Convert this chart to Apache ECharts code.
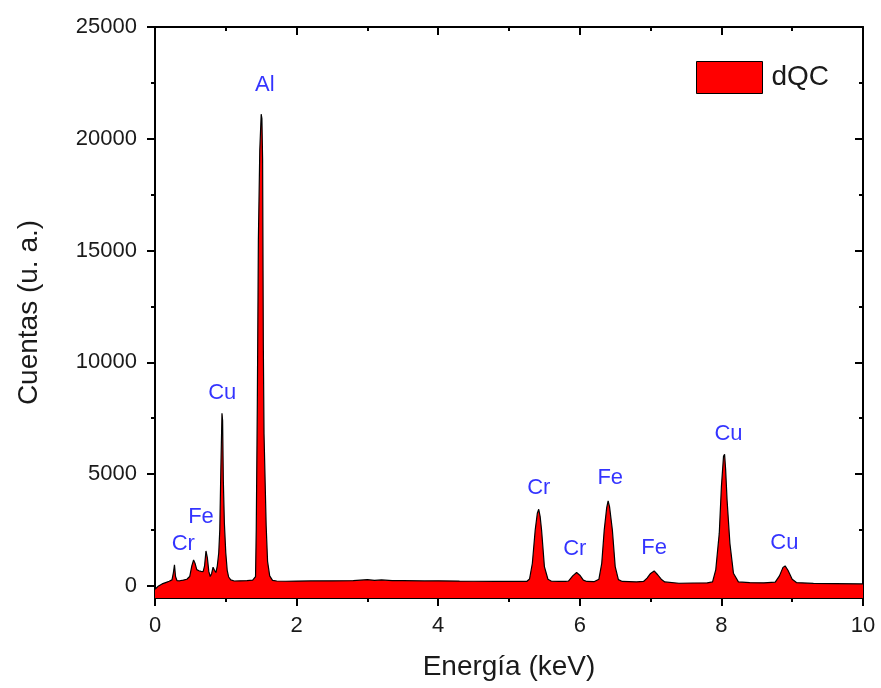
<!DOCTYPE html>
<html>
<head>
<meta charset="utf-8">
<script src="https://cdn.jsdelivr.net/npm/echarts@6/dist/echarts.min.js"></script>
<style>
html,body{margin:0;padding:0;background:#fff;}
#chart{width:881px;height:688px;}
</style>
</head>
<body>
<div id="chart"></div>
<script>
// Energy (keV) and counts of the EDS spectrum
const energy = [
  0.00,0.05,0.10,0.15,0.20,0.24,0.26,0.275,0.29,0.31,0.35,0.40,0.45,0.49,0.52,0.545,0.565,0.59,0.62,0.65,
  0.68,0.70,0.72,0.74,0.76,0.78,0.80,0.82,0.84,0.86,0.88,0.90,0.915,0.93,0.946,0.955,0.965,0.98,1.00,1.02,
  1.04,1.07,1.12,1.20,1.30,1.38,1.42,1.43,1.445,1.46,1.48,1.50,1.51,1.52,1.53,1.54,1.555,1.57,1.59,1.62,
  1.66,1.72,1.85,2.00,2.20,2.50,2.80,3.00,3.10,3.20,3.35,3.50,3.80,4.00,4.30,4.50,4.80,5.00,5.20,5.25,
  5.29,5.33,5.37,5.40,5.42,5.44,5.46,5.50,5.55,5.60,5.70,5.80,5.84,5.90,5.955,6.00,6.05,6.10,6.20,6.27,
  6.31,6.345,6.38,6.40,6.42,6.46,6.50,6.545,6.60,6.70,6.80,6.90,6.95,7.00,7.05,7.10,7.15,7.20,7.40,7.60,
  7.80,7.875,7.92,7.97,8.00,8.03,8.045,8.06,8.08,8.12,8.17,8.24,8.40,8.60,8.76,8.82,8.87,8.90,8.94,9.00,
  9.06,9.30,9.60,10.00
];
const counts = [
  -150,0,90,150,210,270,600,940,420,240,230,260,300,420,900,1160,1020,730,680,650,
  640,900,1565,1250,650,420,560,835,700,600,900,1475,2500,5200,7720,7400,4740,2800,1475,700,
  400,270,220,230,240,260,420,2500,8020,15470,19500,21100,20900,19050,10780,6800,4740,2700,1100,450,
  250,220,210,215,225,230,240,280,250,270,240,235,225,230,215,210,205,200,200,200,
  310,1015,2500,3250,3430,3100,2500,865,300,210,200,200,220,450,600,480,260,200,190,300,
  1015,2500,3500,3800,3550,2500,865,280,200,190,180,200,350,560,670,500,300,180,120,130,
  140,180,715,2360,4440,5800,5890,5200,3850,1910,570,180,150,140,170,450,830,895,700,300,
  150,110,100,90
];
// Peak annotations: element, energy position, height position
const peakNames = ['Cr','Fe','Cu','Al','Cr','Cr','Fe','Fe','Cu','Cu'];
const peakX     = [0.40,0.65,0.95,1.55,5.42,5.93,6.43,7.05,8.10,8.89];
const peakY     = [1880,3090,8630,22400,4380,1650,4830,1700,6800,1920];

const yTicksMajor = [0,5000,10000,15000,20000,25000];
const yTicksMinor = [2500,7500,12500,17500,22500];
const yMin = -540, yMax = 25000;

const spectrum = energy.map((e,i)=>[e,counts[i]]);
const peaks = peakNames.map((n,i)=>[peakX[i],peakY[i],n]);

const chart = echarts.init(document.getElementById('chart'));
const font = 'Liberation Sans, Arial, sans-serif';
const lineBlack = {color:'#000',width:2};
const xBase = {type:'value',min:0,max:10,interval:2,splitLine:{show:false},minorSplitLine:{show:false}};
const yBase = {type:'value',min:yMin,max:yMax,splitLine:{show:false}};

chart.setOption({
  animation:false,
  backgroundColor:'#fff',
  grid:{left:155,right:18,top:27,bottom:90,containLabel:false},
  legend:{
    data:[{name:'dQC',icon:'rect'}],
    left:696,top:61,itemWidth:66,itemHeight:32,padding:0,
    itemStyle:{color:'#ff0000',borderColor:'#000',borderWidth:1},
    textStyle:{fontSize:28,color:'#1a1a1a',fontFamily:font,padding:[0,0,0,4]}
  },
  xAxis:[
    Object.assign({},xBase,{
      position:'bottom',
      name:'Energía (keV)',nameLocation:'middle',nameGap:55,
      nameTextStyle:{fontSize:28,color:'#1a1a1a',fontFamily:font},
      axisLine:{onZero:false,lineStyle:lineBlack},
      axisTick:{show:true,inside:false,length:8,lineStyle:lineBlack},
      minorTick:{show:true,splitNumber:2,length:4,lineStyle:lineBlack},
      axisLabel:{fontSize:22,color:'#1a1a1a',fontFamily:font,margin:17}
    }),
    Object.assign({},xBase,{
      position:'top',
      axisLine:{show:true,onZero:false,lineStyle:lineBlack},
      axisTick:{show:true,inside:true,length:8,lineStyle:lineBlack},
      minorTick:{show:true,splitNumber:2,length:4,lineStyle:lineBlack},
      axisLabel:{show:false}
    })
  ],
  yAxis:[
    Object.assign({},yBase,{
      position:'left',
      name:'Cuentas (u. a.)',nameLocation:'middle',nameGap:112,
      nameTextStyle:{fontSize:28,color:'#1a1a1a',fontFamily:font},
      axisLine:{show:true,onZero:false,lineStyle:lineBlack},
      axisTick:{show:true,inside:false,length:8,lineStyle:lineBlack,customValues:yTicksMajor},
      axisLabel:{fontSize:22,color:'#1a1a1a',fontFamily:font,margin:18,customValues:yTicksMajor,
        formatter:v=>String(v)}
    }),
    Object.assign({},yBase,{
      position:'right',
      axisLine:{show:true,onZero:false,lineStyle:lineBlack},
      axisTick:{show:true,inside:true,length:8,lineStyle:lineBlack,customValues:yTicksMajor},
      axisLabel:{show:false}
    }),
    Object.assign({},yBase,{
      position:'left',
      axisLine:{show:false,onZero:false},
      axisTick:{show:true,inside:false,length:4,lineStyle:lineBlack,customValues:yTicksMinor},
      axisLabel:{show:false}
    }),
    Object.assign({},yBase,{
      position:'right',
      axisLine:{show:false,onZero:false},
      axisTick:{show:true,inside:true,length:4,lineStyle:lineBlack,customValues:yTicksMinor},
      axisLabel:{show:false}
    })
  ],
  series:[
    {
      name:'dQC',type:'line',data:spectrum,xAxisIndex:0,yAxisIndex:0,
      showSymbol:false,symbol:'none',smooth:false,
      lineStyle:{color:'#000',width:1.2},
      itemStyle:{color:'#ff0000',borderColor:'#000'},
      areaStyle:{color:'#ff0000',opacity:1,origin:'start'},
      z:3
    },
    {
      name:'labels',type:'scatter',data:peaks,xAxisIndex:0,yAxisIndex:0,
      symbolSize:0,silent:true,
      label:{show:true,position:'inside',formatter:p=>p.data[2],
        fontSize:22,color:'#0000ff',fontFamily:font},
      z:5
    }
  ]
});
</script>
</body>
</html>
